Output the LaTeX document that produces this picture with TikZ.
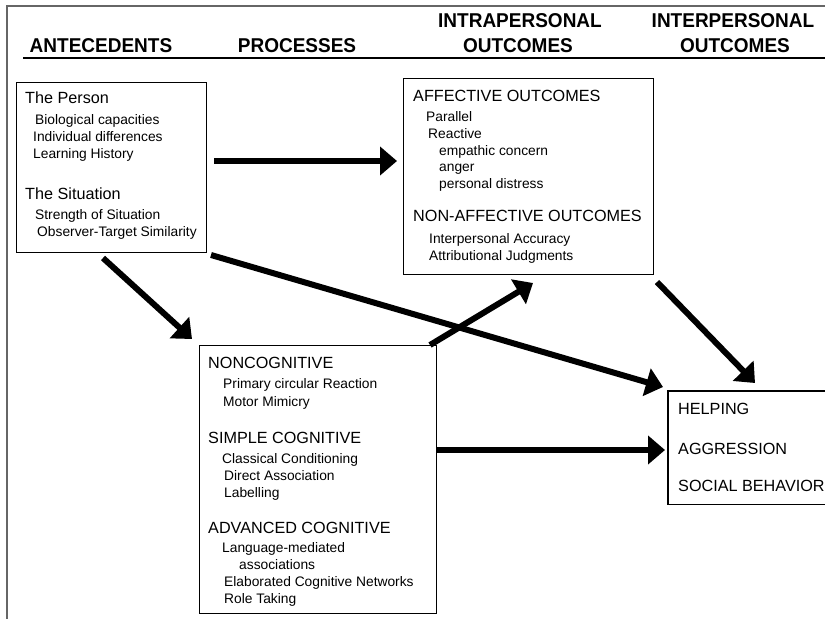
\documentclass[tikz,border=0pt]{standalone}
\usepackage{fontspec}
\setmainfont{Liberation Sans}
\newfontfamily\headfont[FakeStretch=0.95]{Liberation Sans}
\usetikzlibrary{arrows.meta}
\begin{document}
\begin{tikzpicture}[x=1pt,y=-1pt,
  colhead/.style={font=\headfont\fontsize{20}{24}\selectfont\bfseries, inner sep=0, anchor=base},
  boxhead/.style={font=\fontsize{16.2}{19}\selectfont, inner sep=0, anchor=base west},
  item/.style={font=\fontsize{13.8}{16}\selectfont, inner sep=0, anchor=base west},
  panel/.style={draw, line width=1.3pt, inner sep=0, anchor=north west},
  flow/.style={line width=6pt, -{Triangle[length=17pt,width=28pt]}},
]
\useasboundingbox (0,0) rectangle (825,619);

% outer frame and column rule
\draw[black!60, line width=1.2pt] (825,6) -- (7,6) -- (7,619);
\draw[line width=2.5pt] (23,58) -- (825,58);

% column headings
\node[colhead] (hAnte)   at (101,52) {ANTECEDENTS};
\node[colhead] (hProc)   at (297,52) {PROCESSES};
\node[colhead] (hIntraA) at (520,27) {INTRAPERSONAL};
\node[colhead] (hIntraB) at (518,52) {OUTCOMES};
\node[colhead] (hInterA) at (733,27) {INTERPERSONAL};
\node[colhead] (hInterB) at (735,52) {OUTCOMES};

% antecedents
\node[panel, minimum width=190pt, minimum height=170pt] (person) at (16,82) {};
\node[boxhead] (pA)  at (25,103) {The Person};
\node[item]    (pA1) at (35,124) {Biological capacities};
\node[item]    (pA2) at (33,141) {Individual differences};
\node[item]    (pA3) at (33,158) {Learning History};
\node[boxhead] (pB)  at (25,199) {The Situation};
\node[item]    (pB1) at (35,219) {Strength of Situation};
\node[item]    (pB2) at (37,236) {Observer-Target Similarity};

% intrapersonal outcomes
\node[panel, minimum width=250pt, minimum height=196pt] (intra) at (403,78) {};
\node[boxhead] (iA)  at (413,101) {AFFECTIVE OUTCOMES};
\node[item]    (iA1) at (426,121) {Parallel};
\node[item]    (iA2) at (428,138) {Reactive};
\node[item]    (iA3) at (439,155) {empathic concern};
\node[item]    (iA4) at (439,171) {anger};
\node[item]    (iA5) at (439,188) {personal distress};
\node[boxhead] (iB)  at (413,221) {NON-AFFECTIVE OUTCOMES};
\node[item]    (iB1) at (429,243) {Interpersonal Accuracy};
\node[item]    (iB2) at (429,260) {Attributional Judgments};

% processes
\node[panel, minimum width=237pt, minimum height=268pt] (proc) at (199,345) {};
\node[boxhead] (qA)  at (208,368) {NONCOGNITIVE};
\node[item]    (qA1) at (223,388) {Primary circular Reaction};
\node[item]    (qA2) at (223,406) {Motor Mimicry};
\node[boxhead] (qB)  at (208,443) {SIMPLE COGNITIVE};
\node[item]    (qB1) at (222,463) {Classical Conditioning};
\node[item]    (qB2) at (224,480) {Direct Association};
\node[item]    (qB3) at (224,497) {Labelling};
\node[boxhead] (qC)  at (208,533) {ADVANCED COGNITIVE};
\node[item]    (qC1) at (222,552) {Language-mediated};
\node[item]    (qC2) at (239,569) {associations};
\node[item]    (qC3) at (224,586) {Elaborated Cognitive Networks};
\node[item]    (qC4) at (224,603) {Role Taking};

% interpersonal outcomes (open towards the right edge)
\node[inner sep=0, anchor=north west, minimum width=157pt, minimum height=113pt] (inter) at (668,391) {};
\draw[line width=1.3pt] (inter.north east) -- (inter.north west) -- (inter.south west) -- (inter.south east);
\node[boxhead] (oA) at (678,414) {HELPING};
\node[boxhead] (oB) at (678,454) {AGGRESSION};
\node[boxhead] (oC) at (678,491) {SOCIAL BEHAVIOR};

% arrow end points
\coordinate (personToIntraS) at (214,161);
\coordinate (personToIntraE) at (397,161);
\coordinate (personToInterS) at (211,255);
\coordinate (personToInterE) at (663,387);
\coordinate (personToProcS)  at (103,258);
\coordinate (personToProcE)  at (192,339);
\coordinate (procToIntraS)   at (430,345);
\coordinate (procToIntraE)   at (533,283);
\coordinate (procToInterS)   at (437,450);
\coordinate (procToInterE)   at (665,450);
\coordinate (intraToInterS)  at (657,282);
\coordinate (intraToInterE)  at (755,383);

\draw[flow] (personToIntraS) -- (personToIntraE);
\draw[flow] (personToInterS) -- (personToInterE);
\draw[flow] (personToProcS)  -- (personToProcE);
\draw[flow] (procToIntraS)   -- (procToIntraE);
\draw[flow] (procToInterS)   -- (procToInterE);
\draw[flow] (intraToInterS)  -- (intraToInterE);
\end{tikzpicture}
\end{document}
